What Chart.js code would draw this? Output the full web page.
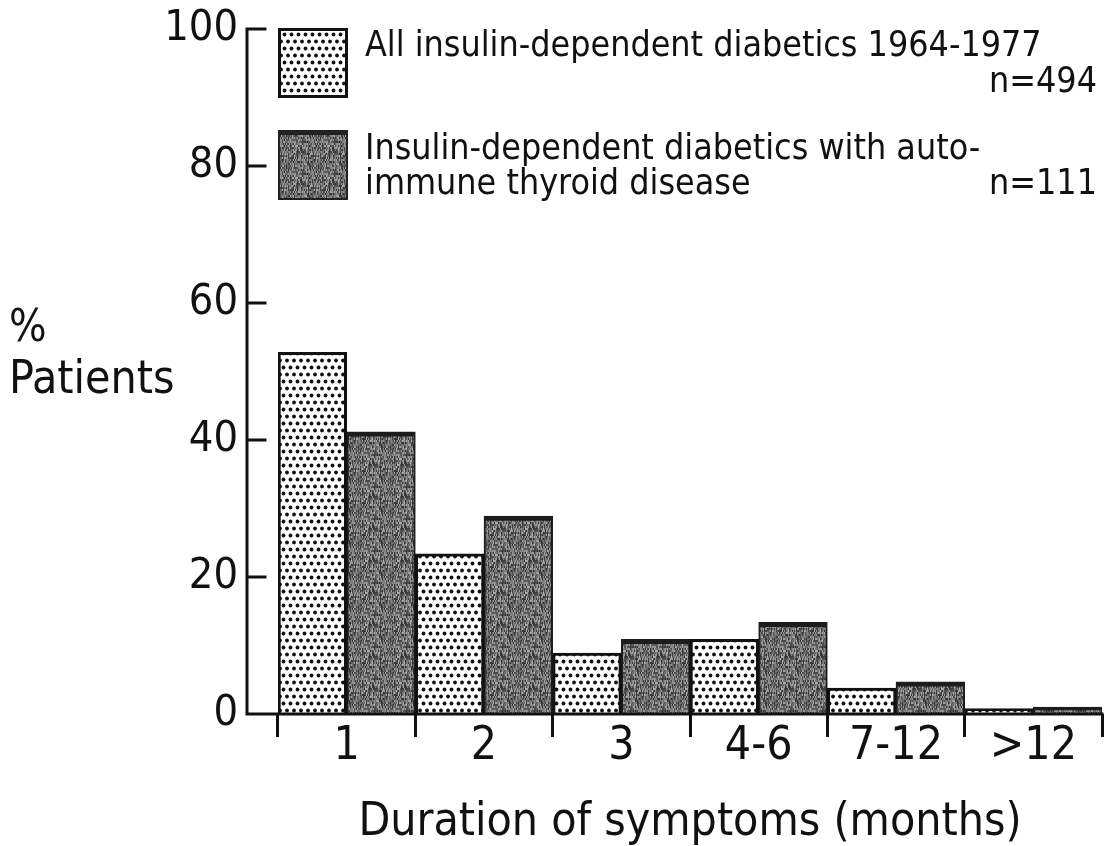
<!DOCTYPE html>
<html>
<head>
<meta charset="utf-8">
<script src="https://cdn.jsdelivr.net/npm/chart.js@4.4.1/dist/chart.umd.min.js"></script>
<style>
  html, body { margin: 0; padding: 0; background: #fff; }
  #wrap { position: relative; width: 1116px; height: 846px; overflow: hidden; }
  #wrap canvas { position: absolute; left: 0; top: 0; }
  .txt {
    position: absolute; white-space: nowrap; color: #111;
    font-family: "Liberation Sans Narrow", "DejaVu Sans Condensed", Roboto, sans-serif;
    line-height: 1;
  }
  .swatch { position: absolute; left: 278px; width: 70px; height: 70px; box-sizing: border-box; }
</style>
</head>
<body>
<div id="wrap">
  <canvas id="durationChart" width="1116" height="846"></canvas>
  <div id="swatchAll" class="swatch" style="top:28px;border:3px solid #111;"></div>
  <div id="swatchThyroid" class="swatch" style="top:130px;border:2px solid #222;border-top-width:5px;"></div>
  <div class="txt" style="left:365px;top:26px;font-size:35.5px;">All insulin-dependent diabetics 1964-1977</div>
  <div class="txt" style="right:19px;top:62px;font-size:35.5px;">n=494</div>
  <div class="txt" style="left:365px;top:129px;font-size:35.5px;">Insulin-dependent diabetics with auto-</div>
  <div class="txt" style="left:365px;top:164px;font-size:35.5px;">immune thyroid disease</div>
  <div class="txt" style="right:19px;top:164px;font-size:35.5px;">n=111</div>
  <div class="txt" style="left:9px;top:304px;font-size:44px;">%</div>
  <div class="txt" style="left:9px;top:354px;font-size:46px;">Patients</div>
</div>
<script>
// Duration of symptoms before diagnosis, % of patients
const categories = ['1', '2', '3', '4-6', '7-12', '>12'];
const allDiabetics = [52.8, 23.4, 8.9, 10.9, 3.8, 0.8];        // n=494
const thyroidDiabetics = [41.2, 28.9, 10.9, 13.4, 4.7, 1.0];   // n=111
const yMin = 0;
const yMax = 100;
const yStep = 20;

const FONT = '"Liberation Sans Narrow", "DejaVu Sans Condensed", Roboto, sans-serif';
const INK = '#111';

// white tile with staggered black dots
function dotTile() {
    const s = 14;
    const c = document.createElement('canvas');
    c.width = s; c.height = s;
    const g = c.getContext('2d');
    g.fillStyle = '#fff';
    g.fillRect(0, 0, s, s);
    g.fillStyle = '#111';
    [[3.5, 3.5], [10.5, 3.5], [0, 10.5], [7, 10.5], [14, 10.5]].forEach(([x, y]) => {
        g.beginPath();
        g.arc(x, y, 1.9, 0, Math.PI * 2);
        g.fill();
    });
    return c;
}

// grey tile with vertical streaky grain (fixed hash, no randomness)
function greyTile() {
    const w = 32, h = 32;
    const c = document.createElement('canvas');
    c.width = w; c.height = h;
    const g = c.getContext('2d');
    const img = g.createImageData(w, h);
    for (let y = 0; y < h; y++) {
        for (let x = 0; x < w; x++) {
            const hsh = ((x * 73856093) ^ (Math.floor(y / 4) * 19349663) ^ ((x + 7) * (Math.floor(y / 2) + 3) * 83492791)) >>> 0;
            const v = 45 + (hsh % 130);
            const i = (y * w + x) * 4;
            img.data[i] = v; img.data[i + 1] = v; img.data[i + 2] = v; img.data[i + 3] = 255;
        }
    }
    g.putImageData(img, 0, 0);
    return c;
}

const dots = dotTile();
const grain = greyTile();
const ctx = document.getElementById('durationChart').getContext('2d');
const dotPattern = ctx.createPattern(dots, 'repeat');
const greyPattern = ctx.createPattern(grain, 'repeat');

document.getElementById('swatchAll').style.background = 'url(' + dots.toDataURL() + ')';
document.getElementById('swatchThyroid').style.background = 'url(' + grain.toDataURL() + ')';

// y axis sits a little left of the first bar, with ticks pointing inward
const axisFrame = {
    id: 'axisFrame',
    afterDatasetsDraw(chart) {
        const { ctx, chartArea, scales } = chart;
        const y = scales.y;
        const axisX = chartArea.left - 31;
        const yTop = y.getPixelForValue(yMax);
        const yBottom = y.getPixelForValue(yMin);
        ctx.save();
        ctx.strokeStyle = INK;
        ctx.lineWidth = 3;
        ctx.lineCap = 'square';
        ctx.beginPath();
        ctx.moveTo(axisX, yTop);
        ctx.lineTo(axisX, yBottom);
        y.ticks.forEach(t => {
            const py = y.getPixelForValue(t.value);
            ctx.moveTo(axisX, py);
            ctx.lineTo(axisX + 18, py);
        });
        ctx.moveTo(axisX, yBottom);
        ctx.lineTo(chartArea.right, yBottom);
        ctx.stroke();
        ctx.restore();
    }
};

new Chart(ctx, {
    type: 'bar',
    data: {
        labels: categories,
        datasets: [{
            label: 'All insulin-dependent diabetics 1964-1977',
            data: allDiabetics,
            backgroundColor: dotPattern,
            borderColor: INK,
            borderWidth: 3,
            borderSkipped: 'bottom'
        }, {
            label: 'Insulin-dependent diabetics with auto-immune thyroid disease',
            data: thyroidDiabetics,
            backgroundColor: greyPattern,
            borderColor: '#1c1c1c',
            borderWidth: { top: 5, left: 2, right: 2, bottom: 0 },
            borderSkipped: 'bottom'
        }]
    },
    options: {
        responsive: false,
        animation: false,
        layout: { padding: { top: 0, right: 14, left: 0, bottom: 0 } },
        datasets: {
            bar: { categoryPercentage: 1, barPercentage: 1 }
        },
        plugins: {
            legend: { display: false },
            tooltip: { enabled: false }
        },
        scales: {
            x: {
                offset: true,
                grid: {
                    display: true,
                    offset: true,
                    drawOnChartArea: false,
                    drawTicks: true,
                    tickLength: 23,
                    lineWidth: 3,
                    color: INK
                },
                border: { display: false },
                ticks: {
                    color: INK,
                    padding: -18,
                    font: { family: FONT, size: 46 }
                },
                title: {
                    display: true,
                    text: 'Duration of symptoms (months)',
                    color: INK,
                    font: { family: FONT, size: 46, lineHeight: 1 },
                    padding: { top: 0, bottom: 0 }
                },
                afterFit(scale) { scale.height = 132; }
            },
            y: {
                min: yMin,
                max: yMax,
                grid: { display: false, drawTicks: false },
                border: { display: false },
                ticks: {
                    stepSize: yStep,
                    color: INK,
                    padding: 40,
                    font: { family: FONT, size: 43 }
                },
                afterFit(scale) {
                    scale.width = 278;
                    scale.paddingTop = 29;
                    scale.paddingBottom = 0;
                }
            }
        }
    },
    plugins: [axisFrame]
});
</script>
</body>
</html>
